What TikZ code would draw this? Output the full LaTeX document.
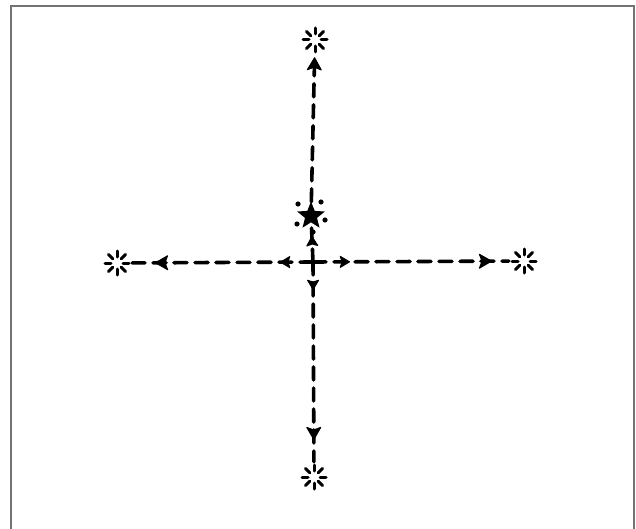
\documentclass[tikz,border=0pt]{standalone}
\usetikzlibrary{arrows.meta,decorations.markings,shapes.geometric}
\begin{document}
\begin{tikzpicture}[x=1pt,y=-1pt,
  frame/.style={draw=black!55,line width=2pt},
  dline/.style={line width=3.6pt,dash pattern=on 13pt off 8pt,line cap=round},
  smallhead/.style={solid,line width=1pt,line join=round},
  marks/.style 2 args={postaction={decorate,decoration={markings,
     mark=at position #1 with {\arrow[smallhead]{Stealth[length=11pt,width=13pt,inset=2pt,round]}},
     mark=at position #2 with {\arrow[smallhead]{Stealth[length=14pt,width=16pt,inset=3pt,round]}}}}},
  burst/.style={circle,minimum size=30pt,inner sep=0pt,
    path picture={\foreach \a in {0,45,...,315}{
      \draw[line width=3pt,line cap=round]
        (path picture bounding box.center) ++(\a:6pt) -- ++(\a:6pt);}}},
  starnode/.style={star,star points=5,star point ratio=2.3,fill=black,
    minimum size=29pt,inner sep=0pt}
]
\useasboundingbox (0,0) rectangle (636,529);
\fill[white] (0,0) rectangle (636,529);
\draw[frame] (11,540) -- (11,6) -- (634,6) -- (634,540);

\coordinate (c) at (313,262);
\node[starnode] (s) at (311,216) {};
\node[burst] (t) at (315,40) {};
\node[burst] (l) at (117,263) {};
\node[burst] (r) at (524,261) {};
\node[burst] (b) at (314,477) {};

% dots around the star
\foreach \p in {(298,204),(321,202),(297,224),(325,220),(313,232)}
  \fill \p circle (2.6pt);

% connectors
\draw[dline,marks={33pt}{158pt}] (c) -- (l);
\draw[dline,marks={37pt}{179pt}] (c) -- (r);
\draw[dline,marks={28pt}{178pt}] (c) -- (b);
\draw[dline,postaction={decorate,decoration={markings,
     mark=at position 26pt with {\arrow[smallhead]{Stealth[length=11pt,width=13pt,inset=2pt,round]}}}}] (c) -- (s);
\draw[dline,postaction={decorate,decoration={markings,
     mark=at position -2pt with {\arrow[smallhead]{Stealth[length=14pt,width=16pt,inset=3pt,round]}}}}] (s) -- (t);
\end{tikzpicture}
\end{document}
